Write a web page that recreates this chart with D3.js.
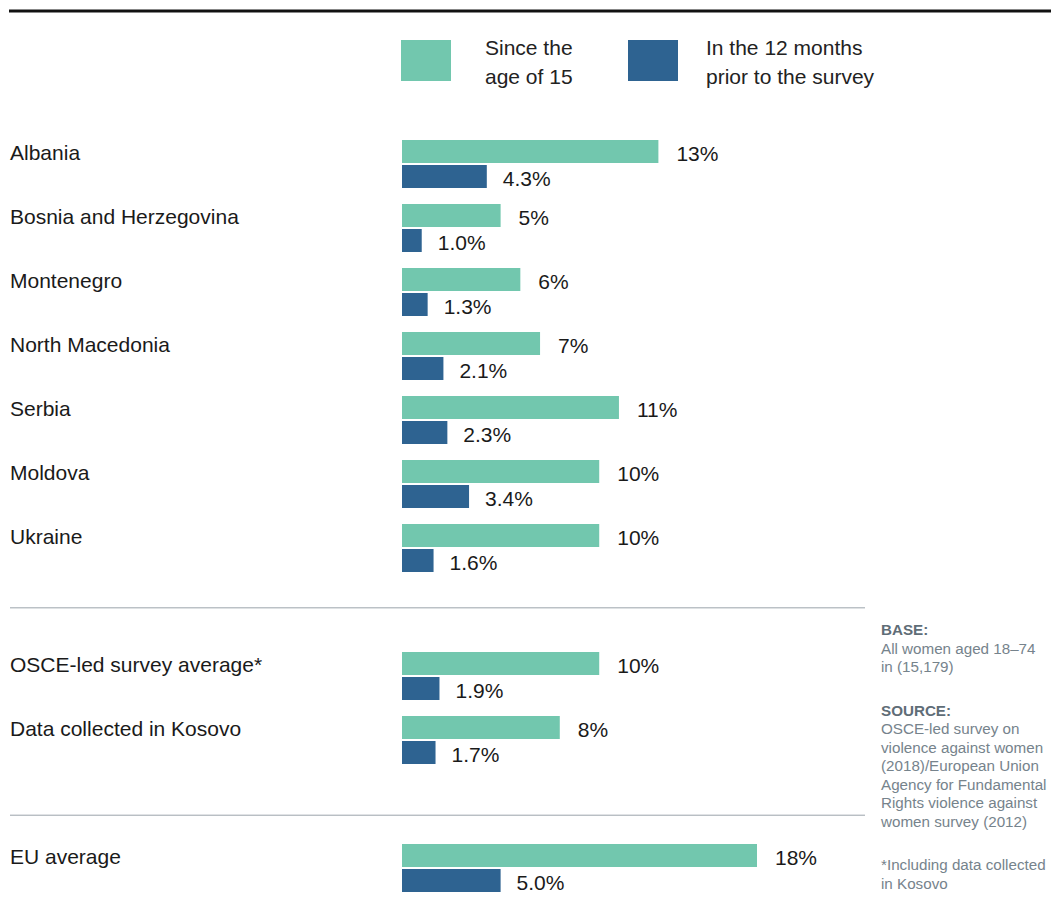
<!DOCTYPE html>
<html>
<head>
<meta charset="utf-8">
<script src="https://cdn.jsdelivr.net/npm/d3@7"></script>
<style>
  body { margin: 0; background: #fff; }
  text { font-family: "Liberation Sans", Arial, sans-serif; }
</style>
</head>
<body>
<div id="chart"></div>
<script>
// data
const countries = ["Albania", "Bosnia and Herzegovina", "Montenegro", "North Macedonia", "Serbia", "Moldova", "Ukraine", "OSCE-led survey average*", "Data collected in Kosovo", "EU average"];
const sinceAge15 = [13, 5, 6, 7, 11, 10, 10, 10, 8, 18];
const last12Months = [4.3, 1.0, 1.3, 2.1, 2.3, 3.4, 1.6, 1.9, 1.7, 5.0];
const rowSlot = [0, 1, 2, 3, 4, 5, 6, 8, 9, 11];
const separatorSlots = [7.31, 10.55];
const legendLabels = [["Since the", "age of 15"], ["In the 12 months", "prior to the survey"]];
const notes = [
  {head: "BASE:", lines: ["All women aged 18\u201374", "in (15,179)"]},
  {head: "SOURCE:", lines: ["OSCE-led survey on", "violence against women", "(2018)/European Union", "Agency for Fundamental", "Rights violence against", "women survey (2012)"]},
  {head: null, lines: ["*Including data collected", "in Kosovo"]}
];

const width = 1051, height = 918;
const green = "#72c7ae", blue = "#2e6391";

const svg = d3.select("#chart").append("svg")
  .attr("width", width)
  .attr("height", height);

const x = d3.scaleLinear().domain([0, 18]).range([402, 757]);
const y = d3.scaleLinear().domain([0, 1]).range([140, 204]);
const barH = 23;

// top rule
svg.append("line")
  .attr("x1", 9).attr("x2", width)
  .attr("y1", 11).attr("y2", 11)
  .attr("stroke", "#111").attr("stroke-width", 3);

// legend
const legend = svg.append("g");
[[401, 485, green], [628, 706, blue]].forEach((p, i) => {
  legend.append("rect")
    .attr("x", p[0]).attr("y", 40)
    .attr("width", 50).attr("height", 41)
    .attr("fill", p[2]);
  legendLabels[i].forEach((t, j) => {
    legend.append("text")
      .attr("x", p[1]).attr("y", 55 + j * 29)
      .attr("font-size", 21)
      .attr("fill", "#222")
      .text(t);
  });
});

// separators
svg.selectAll(".sep")
  .data(separatorSlots)
  .join("line")
  .attr("class", "sep")
  .attr("x1", 10).attr("x2", 865)
  .attr("y1", d => y(d)).attr("y2", d => y(d))
  .attr("stroke", "#9aa3aa").attr("stroke-width", 1);

const rows = svg.selectAll(".row")
  .data(countries.map((c, i) => ({c, a: sinceAge15[i], b: last12Months[i], s: rowSlot[i]})))
  .join("g")
  .attr("class", "row")
  .attr("transform", d => `translate(0, ${y(d.s)})`);

rows.append("text")
  .attr("x", 10).attr("y", barH / 2 + 1)
  .attr("dy", "0.35em")
  .attr("font-size", 21)
  .attr("fill", "#1a1a1a")
  .text(d => d.c);

rows.append("rect")
  .attr("x", x(0)).attr("y", 0)
  .attr("width", d => x(d.a) - x(0)).attr("height", barH)
  .attr("fill", green);

rows.append("rect")
  .attr("x", x(0)).attr("y", barH + 2)
  .attr("width", d => x(d.b) - x(0)).attr("height", barH)
  .attr("fill", blue);

rows.append("text")
  .attr("x", d => x(d.a) + 18).attr("y", barH / 2 + 2)
  .attr("dy", "0.35em")
  .attr("font-size", 21)
  .attr("fill", "#1a1a1a")
  .text(d => d.a + "%");

rows.append("text")
  .attr("x", d => x(d.b) + 16).attr("y", barH * 1.5 + 4)
  .attr("dy", "0.35em")
  .attr("font-size", 21)
  .attr("fill", "#1a1a1a")
  .text(d => d.b.toFixed(1) + "%");

// notes
const noteG = svg.append("g").attr("font-size", 15.2).attr("fill", "#76838c");
let ny = 635;
notes.forEach(n => {
  if (n.head) {
    noteG.append("text").attr("x", 881).attr("y", ny)
      .attr("font-weight", "bold").attr("fill", "#5f6d77").text(n.head);
    ny += 18.5;
  }
  n.lines.forEach(l => {
    noteG.append("text").attr("x", 881).attr("y", ny).text(l);
    ny += 18.5;
  });
  ny += 25;
});
</script>
</body>
</html>
